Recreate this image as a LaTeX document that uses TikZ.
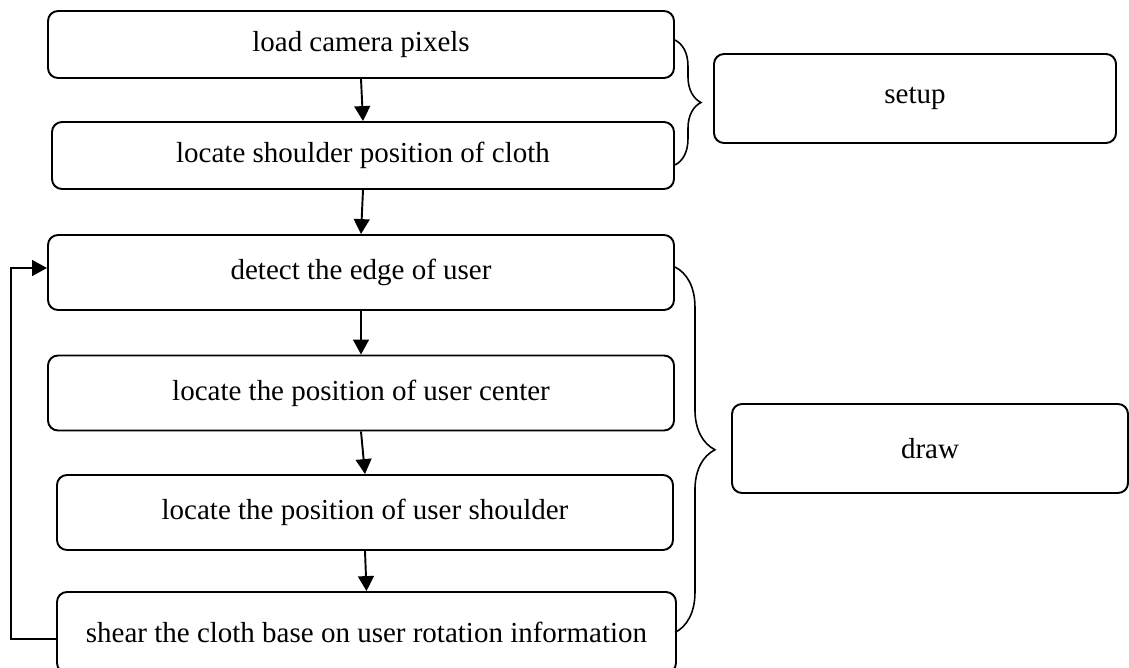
\documentclass[tikz,border=0pt]{standalone}
\usepackage{fontspec}
\setmainfont{Liberation Serif}
\usetikzlibrary{arrows.meta,decorations.pathreplacing}

\begin{document}
\begin{tikzpicture}[
        stepbox/.style={draw, line width=1.1pt, rounded corners=0.2cm, minimum height=1.5cm,
            inner sep=0pt, font=\fontsize{16.5}{19}\selectfont},
        groupbox/.style={stepbox, minimum height=1.78cm},
        flow/.style={-{Triangle[length=8.5pt,width=9pt]}, line width=1.1pt},
        curly/.style={decorate, decoration={brace, amplitude=#1}, line width=0.9pt}
    ]
                % \draw[help lines] (0,0) grid (23,-14);
                \useasboundingbox (0,0) rectangle (22.58,-13.34);

                \node[stepbox, minimum width=12.52cm, minimum height=1.34cm] (load) at (7.22,-0.89) {load camera pixels};
                \node[stepbox, minimum width=12.44cm, minimum height=1.34cm] (shoulder) at (7.26,-3.11) {locate shoulder position of cloth};
                \node[stepbox, minimum width=12.52cm] (edge) at (7.22,-5.45) {detect the edge of user};
                \node[stepbox, minimum width=12.52cm] (center) at (7.22,-7.86) {locate the position of user center};
                \node[stepbox, minimum width=12.32cm] (usersh) at (7.30,-10.25) {locate the position of user shoulder};
                \node[stepbox, minimum width=12.38cm, minimum height=1.62cm] (shear) at (7.33,-12.65) {shear the cloth base on user rotation information};

                \node[groupbox, minimum width=8.04cm] (setupgrp) at (18.30,-1.97) {setup};
                \node[groupbox, minimum width=7.92cm] (drawgrp) at (18.60,-8.97) {draw};

                \draw[flow] (load.south) -- (shoulder.north);
                \draw[flow] (shoulder.south) -- (edge.north);
                \draw[flow] (edge.south) -- (center.north);
                \draw[flow] (center.south) -- (usersh.north);
                \draw[flow] (usersh.south) -- (shear.north);
                \draw[flow] ([yshift=-0.13cm]shear.west) -- ++(-0.9,0) |- ([yshift=0.09cm]edge.west);

                \draw[curly=0.52cm] ([yshift=0.09cm]load.east) -- ([yshift=-0.19cm]shoulder.east);
                \draw[curly=0.8cm] ([yshift=0.11cm]edge.east) -- (edge.east |- shear.east);
\end{tikzpicture}
\end{document}
